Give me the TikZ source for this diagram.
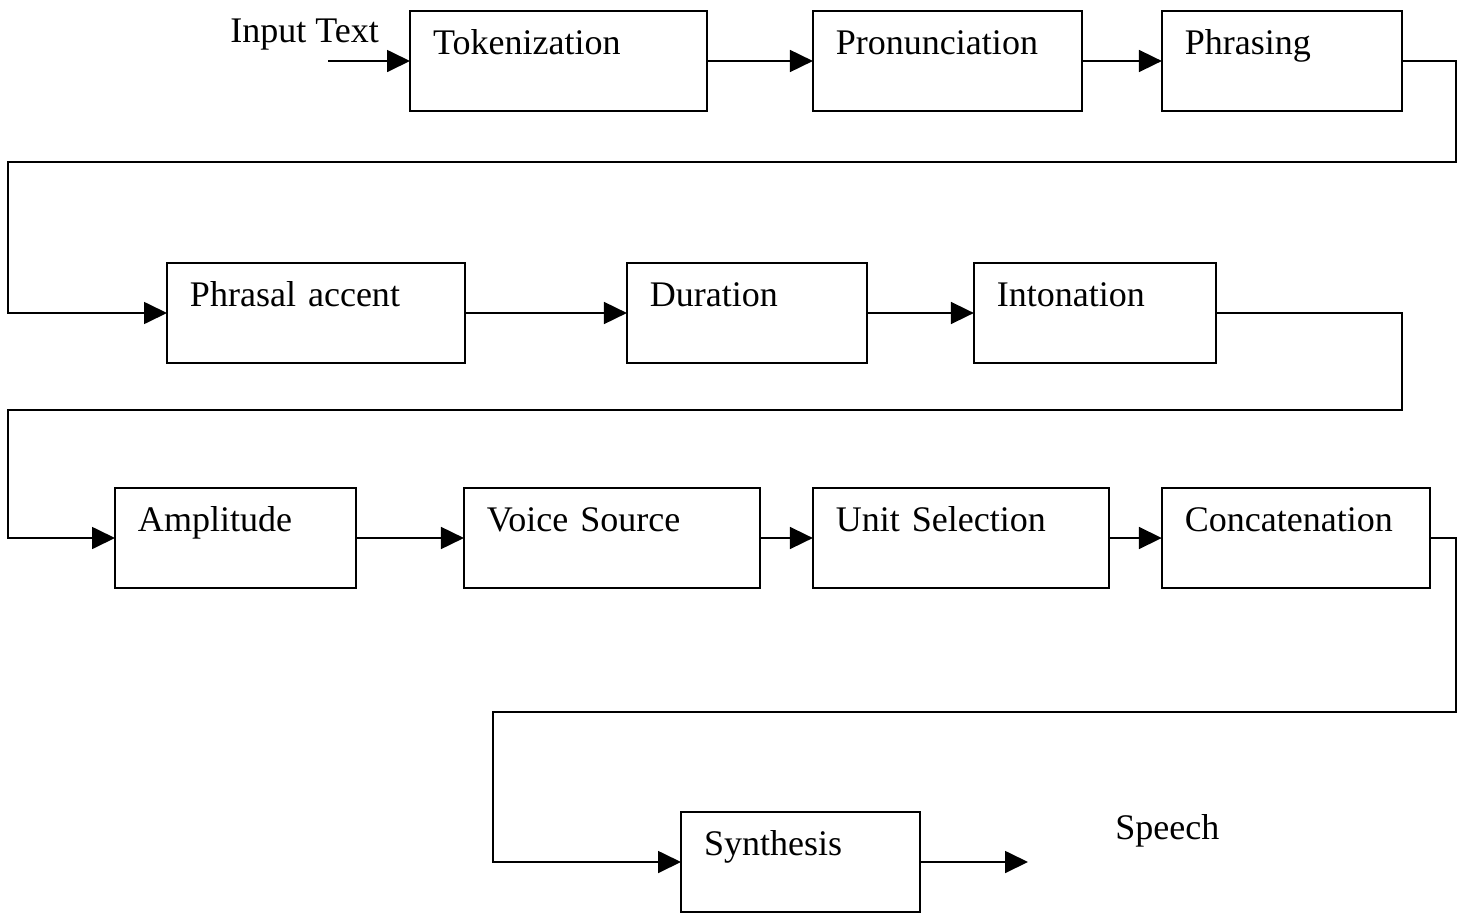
\documentclass[tikz,border=0pt]{standalone}
\usepackage{fontspec}
\setmainfont{Liberation Serif}
\usetikzlibrary{arrows.meta, positioning}

\begin{document}
\begin{tikzpicture}[
  x=0.02cm, y=-0.02cm,
  stage/.style={rectangle, draw, line width=0.9pt, anchor=north west,
    outer sep=0pt, inner xsep=0.46cm, inner ysep=0pt,
    text height=0.87cm, text depth=1.13cm,
    align=left, font=\fontsize{20.5}{24}\selectfont},
  lbl/.style={font=\fontsize{20.5}{24}\selectfont, inner sep=0pt},
  arr/.style={-{Triangle[length=0.46cm, width=0.44cm]}, line width=1pt}
]
  \useasboundingbox (0,0) rectangle (1466,914);

  %% Row 1
  \node[stage, text width=5.02cm] (tok) at (410,11) {Tokenization};
  \node[stage, text width=4.46cm, right=2.12cm of tok] (pron) {Pronunciation};
  \node[stage, text width=3.88cm, right=1.6cm of pron] (phr) {Phrasing};

  %% Row 2
  \node[stage, text width=5.04cm] (accent) at (167,263) {Phrasal accent};
  \node[stage, text width=3.88cm, right=3.24cm of accent] (dur) {Duration};
  \node[stage, text width=3.92cm, right=2.14cm of dur] (inton) {Intonation};

  %% Row 3
  \node[stage, text width=3.9cm] (ampl) at (115,488) {Amplitude};
  \node[stage, text width=5.0cm, right=2.16cm of ampl] (voice) {Voice Source};
  \node[stage, text width=5.0cm, right=1.06cm of voice] (unit) {Unit Selection};
  \node[stage, text width=4.44cm, right=1.06cm of unit] (concat) {Concatenation};

  %% Row 4
  \node[stage, text width=3.86cm] (synth) at (681,812) {Synthesis};

  \node[lbl, anchor=base west] (input) at (230,42) {Input Text};
  \node[lbl, anchor=base west] (speech) at (1115,839) {Speech};
  \coordinate (in) at (328,61);
  \coordinate (out) at (1028,862);

  \draw[arr] (in) -- (tok.west |- in);
  \draw[arr] (tok) -- (pron);
  \draw[arr] (pron) -- (phr);
  \draw[arr] (phr.east) -| (1456,162) -- (8,162) |- (accent.west);
  \draw[arr] (accent) -- (dur);
  \draw[arr] (dur) -- (inton);
  \draw[arr] (inton.east) -| (1402,410) -- (8,410) |- (ampl.west);
  \draw[arr] (ampl) -- (voice);
  \draw[arr] (voice) -- (unit);
  \draw[arr] (unit) -- (concat);
  \draw[arr] (concat.east) -| (1456,712) -- (493,712) |- (synth.west);
  \draw[arr] (synth.east) -- (synth.east -| out);
\end{tikzpicture}
\end{document}
